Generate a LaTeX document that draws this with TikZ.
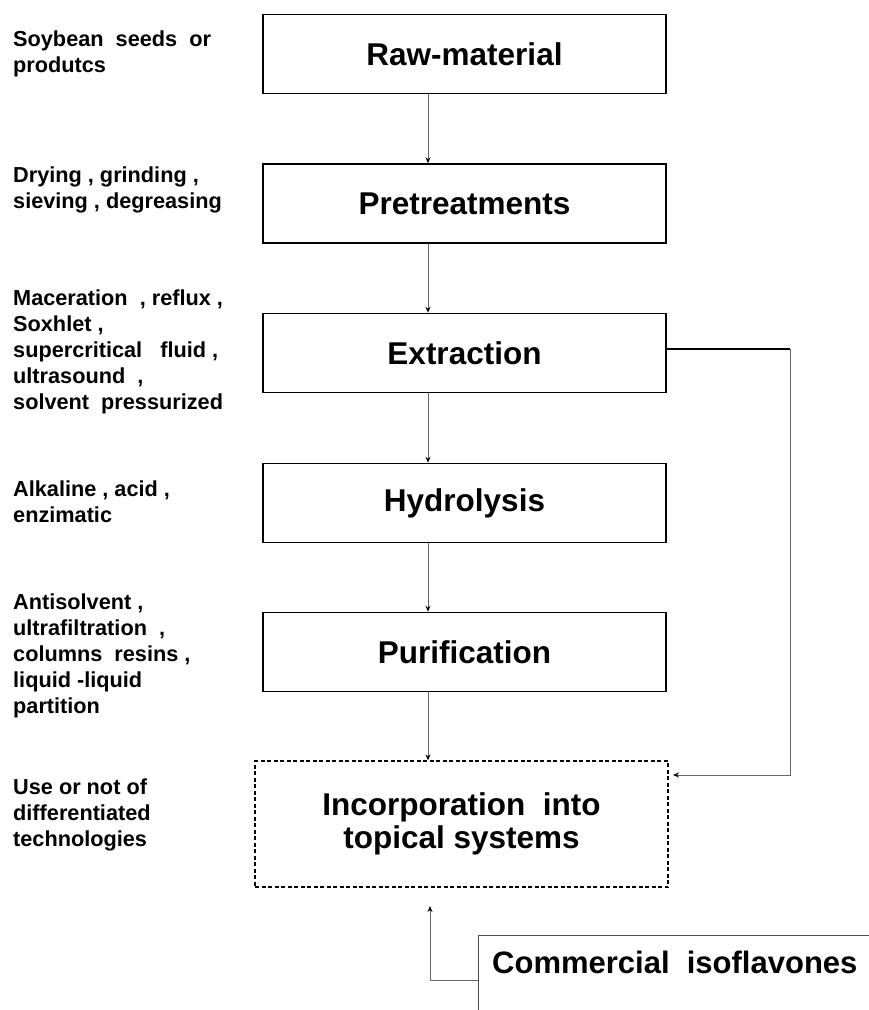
\documentclass[tikz,border=0pt]{standalone}
\usepackage{fontspec}
\setmainfont{Liberation Sans}
\usetikzlibrary{arrows.meta}
\tikzset{
  stage/.style={draw=black, line width=1.5pt, minimum width=403pt, minimum height=79pt, inner sep=0pt,
    font=\fontsize{31.5}{33}\selectfont\bfseries, align=center},
  dstage/.style={stage, dash pattern=on 4pt off 2.5pt, line width=1.3pt},
  lbl/.style={anchor=north west, inner sep=0pt, align=left,
    font=\fontsize{21.7}{25.8}\selectfont\bfseries},
  conn/.style={draw=black!60, line width=1pt, -{Stealth[length=6pt,width=5pt,color=black]}},
  feed/.style={draw=black, line width=2pt},
  thin/.style={draw=black!70, line width=1pt},
}
\begin{document}
\begin{tikzpicture}[x=1pt,y=-1pt]
\useasboundingbox (0,0) rectangle (869,1010);
% stages
\node[stage] (raw) at (464.5,54) {Raw-material};
\node[stage] (pre) at (464.5,203.5) {Pretreatments};
\node[stage] (ext) at (464.5,353) {Extraction};
\node[stage] (hyd) at (464.5,503) {Hydrolysis};
\node[stage] (pur) at (464.5,652) {Purification};
\node[dstage, minimum width=413pt, minimum height=126pt] (inc) at (461.5,824) {Incorporation\ \ into\\topical systems};
% left labels
\node[lbl] (l1) at (13,31) {Soybean\ \ seeds\ \ or\\produtcs};
\node[lbl] (l2) at (13,167) {Drying , grinding ,\\sieving , degreasing};
\node[lbl] (l3) at (13,290) {Maceration\ \ , reflux ,\\Soxhlet ,\\supercritical\ \ \ fluid ,\\ultrasound\ \ ,\\solvent\ \ pressurized};
\node[lbl] (l4) at (13,481) {Alkaline , acid ,\\enzimatic};
\node[lbl] (l5) at (13,594) {Antisolvent ,\\ultrafiltration\ \ ,\\columns\ \ resins ,\\liquid -liquid\\partition};
\node[lbl] (l6) at (13,779) {Use or not of\\differentiated\\technologies};
% main flow
\coordinate (ax) at (428,0);
\draw[conn] (raw.south -| ax) -- (pre.north -| ax);
\draw[conn] (pre.south -| ax) -- (ext.north -| ax);
\draw[conn] (ext.south -| ax) -- (hyd.north -| ax);
\draw[conn] (hyd.south -| ax) -- (pur.north -| ax);
\draw[conn] (pur.south -| ax) -- (inc.north -| ax);
% feedback from extraction
\coordinate (f1) at (790,349);
\coordinate (f2) at (790,775);
\coordinate (f3) at (673,775);
\draw[feed] (ext.east |- f1) -- (f1);
\draw[conn] (f1) -- (f2) -- (f3);
% commercial isoflavones
\coordinate (c1) at (478,935);
\coordinate (c2) at (869,935);
\coordinate (c3) at (478,1010);
\draw[thin] (c2) -- (c1) -- (c3);
\node[anchor=base west, inner sep=0pt, font=\fontsize{31}{33}\selectfont\bfseries] (com) at (492,973) {Commercial\ \ isoflavones};
\coordinate (c4) at (478,980);
\coordinate (c5) at (430,980);
\coordinate (c6) at (430,906);
\draw[conn] (c4) -- (c5) -- (c6);
\end{tikzpicture}
\end{document}
